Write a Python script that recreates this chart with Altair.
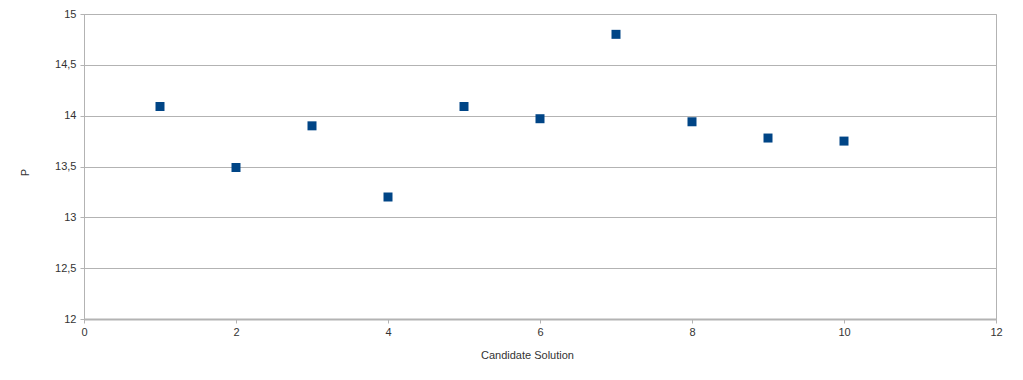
import altair as alt
import pandas as pd

solutions = [1, 2, 3, 4, 5, 6, 7, 8, 9, 10]
p_values = [14.09, 13.49, 13.90, 13.20, 14.09, 13.97, 14.80, 13.94, 13.78, 13.75]

df = pd.DataFrame({"Candidate Solution": solutions, "P": p_values})

font = "Liberation Sans"

chart = alt.Chart(df).mark_square(size=81, color="#004586", opacity=1).encode(
    x=alt.X("Candidate Solution:Q",
            scale=alt.Scale(domain=[0, 12], nice=False, zero=False),
            axis=alt.Axis(values=[0, 2, 4, 6, 8, 10, 12], grid=False,
                          domainColor="#b3b3b3", domainWidth=2,
                          tickColor="#b3b3b3", tickSize=4,
                          labelFont=font, labelFontSize=11, labelColor="#333333",
                          labelPadding=3, labelFlush=False, labelOverlap=False,
                          title="Candidate Solution", titleFont=font,
                          titleFontSize=11, titleFontWeight="normal",
                          titleColor="#333333",
                          titleX=443, titleY=36, titleAlign="center",
                          titleBaseline="middle")),
    y=alt.Y("P:Q",
            scale=alt.Scale(domain=[12, 15], nice=False, zero=False),
            axis=alt.Axis(values=[12, 12.5, 13, 13.5, 14, 14.5, 15],
                          labelExpr="replace(toString(datum.value), '.', ',')",
                          grid=True, gridColor="#b3b3b3",
                          domainColor="#b3b3b3", domainWidth=1,
                          tickColor="#b3b3b3", tickSize=4,
                          labelFont=font, labelFontSize=11, labelColor="#333333",
                          labelPadding=4, labelFlush=False, labelOverlap=False,
                          title="P", titleFont=font, titleFontSize=11,
                          titleFontWeight="normal", titleColor="#333333",
                          titleX=-59, titleY=158, titleAlign="center",
                          titleBaseline="middle", titleAngle=270)),
).properties(
    width=912, height=305,
    autosize=alt.AutoSizeParams(type="none"),
    padding={"left": 76, "top": 6, "right": 10, "bottom": 50},
).configure_view(stroke="#b3b3b3", strokeWidth=1)

chart.save("out.html", embed_options={"renderer": "svg", "actions": False})
